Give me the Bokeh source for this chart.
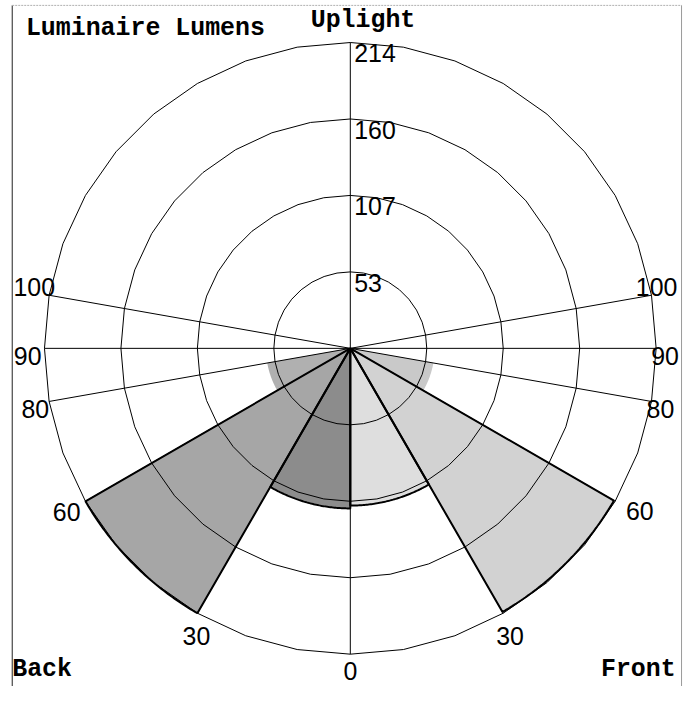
import numpy as np
from bokeh.plotting import figure
from bokeh.models import Range1d
from bokeh.core.properties import value
from bokeh.embed import file_html
from bokeh.resources import INLINE

# ---------------- data ----------------
zone_start = [0, 30, 60, 80, 90]
zone_end = [30, 60, 80, 90, 180]
back_lumens = [112, 214, 59, 5, 0]
front_lumens = [110, 213, 59, 5, 0]
ring_values = [53.5, 107, 160.5, 214]
ring_labels = ["53", "107", "160", "214"]
scale_max = 214
spoke_angles = [30, 60, 80, 100]
angle_label_values = [0, 30, 60, 80, 90, 100]
angle_labels = ["0", "30", "60", "80", "90", "100"]
title_text = "Luminaire Lumens"
top_text = "Uplight"
back_text = "Back"
front_text = "Front"

# ---------------- layout / style ----------------
W, H = 683, 686
S = W / 699.0                      # design drawn in 699x702 reference pixels, scaled to fit
CX, CY = 358 * S, 356 * S          # polar centre in figure pixels
R_PX = 313 * S                     # outer ring radius in pixels
k = R_PX / scale_max               # pixels per lumen

back_colors = ["#8c8c8c", "#a6a6a6", "#b0b0b0", "#b0b0b0", "#b0b0b0"]
front_colors = ["#dedede", "#d2d2d2", "#c9c9c9", "#c9c9c9", "#c9c9c9"]
outlined = [True, True, False, False, False]

p = figure(width=W, height=H, output_backend="svg", toolbar_location=None,
           x_range=Range1d(-CX / k, (W - CX) / k),
           y_range=Range1d(-(H - CY) / k, CY / k),
           min_border=0)
p.axis.visible = False
p.grid.visible = False
p.outline_line_color = None
p.background_fill_color = "white"
p.border_fill_color = "white"


def pt(theta, side, r):
    t = np.radians(theta)
    return side * r * np.sin(t), -r * np.cos(t)


def scr(sx, sy):
    """reference pixel -> data"""
    return (sx * S - CX) / k, (CY - sy * S) / k


# frame lines
fx0, fy0 = scr(12, 5)
fx1, fy1 = scr(697, 702)
p.line([fx0, fx0], [fy0, fy1], line_color="#222222", line_width=1)
p.line([fx0, fx1], [fy0, fy0], line_color="#b0b0b0", line_width=1, line_dash="2 1")
p.line([fx1, fx1], [fy0, fy1], line_color="#9a9a9a", line_width=1)

# wedge fills
wx, wy, wc = [], [], []
ox, oy = [], []
for side, vals, cols in ((-1, back_lumens, back_colors), (1, front_lumens, front_colors)):
    for a0, a1, v, c, o in zip(zone_start, zone_end, vals, cols, outlined):
        if v <= 0:
            continue
        th = np.linspace(a0, a1, 60)
        ax, ay = pt(th, side, v)
        xs = [0.0] + list(ax) + [0.0]
        ys = [0.0] + list(ay) + [0.0]
        wx.append(xs); wy.append(ys); wc.append(c)
        if o:
            ox.append(xs); oy.append(ys)

p.patches(wx, wy, fill_color=wc, line_color=None)

# grid rings (10 degree polygons like the original)
th = np.arange(0, 361, 10)
rx, ry = [], []
for r in ring_values:
    rx.append(list(r * np.sin(np.radians(th))))
    ry.append(list(-r * np.cos(np.radians(th))))
p.multi_line(rx, ry, line_color="black", line_width=1)

# spokes
sx_, sy_ = [], []
sx_.append([0, 0]); sy_.append([-scale_max, scale_max])
sx_.append([-scale_max, scale_max]); sy_.append([0, 0])
for a in spoke_angles:
    for side in (-1, 1):
        x1, y1 = pt(a, side, scale_max)
        sx_.append([0, x1]); sy_.append([0, y1])
p.multi_line(sx_, sy_, line_color="black", line_width=1)

# wedge outlines
p.multi_line(ox, oy, line_color="black", line_width=2)

num_font = value("Liberation Sans")
num_size = "%.1fpx" % (25.5 * S)

# ring labels
p.text(x=[0] * len(ring_values), y=ring_values, text=ring_labels,
       text_font=num_font, text_font_size=num_size, text_color="black",
       text_align="left", text_baseline="top", x_offset=4 * S, y_offset=2 * S)

# angle labels (alignment, baseline, x offset, y offset in reference px)
label_layout = {
    (-1, 0): ("center", "top", 0, 8),
    (-1, 30): ("center", "top", -1, 14),
    (-1, 60): ("right", "top", -5, 2),
    (-1, 80): ("right", "top", 0, -1),
    (-1, 90): ("right", "top", -3, -1),
    (-1, 100): ("right", "bottom", 6, 1),
    (1, 30): ("center", "top", 7, 14),
    (1, 60): ("left", "top", 11, 1),
    (1, 80): ("left", "top", -5, -1),
    (1, 90): ("left", "top", -5, -1),
    (1, 100): ("left", "bottom", -16, 1),
}
for side in (-1, 1):
    for a, lab in zip(angle_label_values, angle_labels):
        if (side, a) not in label_layout:
            continue
        al, bl, xo, yo = label_layout[(side, a)]
        x1, y1 = pt(a, side, scale_max)
        p.text(x=[x1], y=[y1], text=[lab], text_font=num_font, text_font_size=num_size,
               text_color="black", text_align=al, text_baseline=bl,
               x_offset=xo * S, y_offset=yo * S)

title_font = value("Liberation Mono")
title_size = "%.1fpx" % (25.5 * S)
for txt, (px, py), al in ((title_text, (26, 28), "left"),
                          (top_text, (371, 20), "center"),
                          (back_text, (12, 684), "left"),
                          (front_text, (691, 684), "right")):
    tx, ty = scr(px, py)
    p.text(x=[tx], y=[ty], text=[txt], text_font=title_font, text_font_size=title_size,
           text_font_style="bold", text_align=al, text_baseline="middle", text_color="black")

open("out.html", "w").write(file_html(p, INLINE))
